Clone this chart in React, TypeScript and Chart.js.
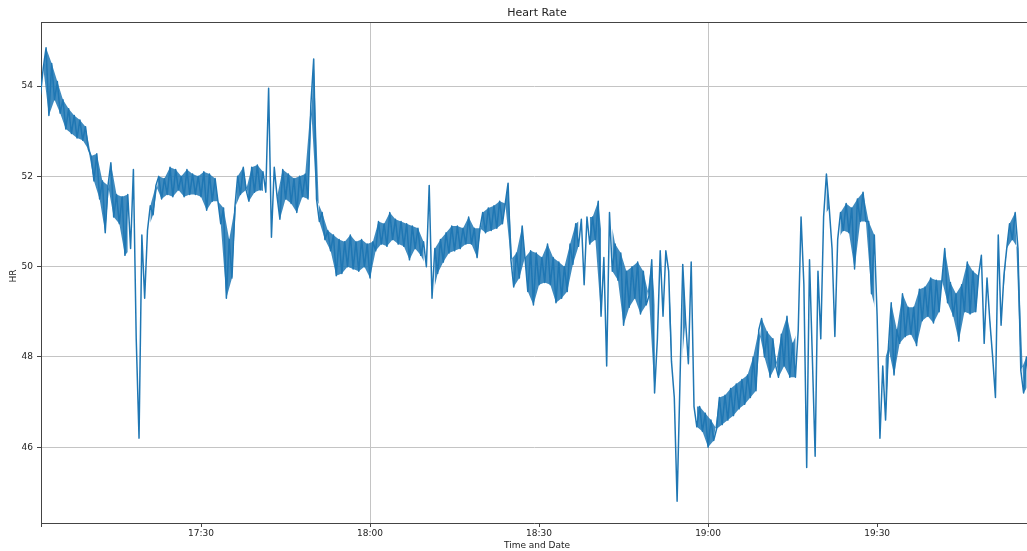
import React, { useEffect, useRef } from 'react';
import { Chart, registerables } from 'chart.js';

Chart.register(...registerables);

// Heart-rate readings every 30 seconds, minutes counted from midnight.
const seriesStartMinute = 1021.5; // 17:01:30
const stepMinutes = 0.5;

const hr1701to1731 = [
  53.8, 54.4, 54.85, 53.35, 54.5, 53.7, 54.1, 53.4, 53.7, 53.05,
  53.5, 52.95, 53.35, 52.85, 53.25, 52.8, 53.1, 52.6, 52.45, 51.9,
  52.5, 51.5, 51.9, 50.75, 51.8, 52.3, 51.1, 51.6, 50.95, 51.55,
  50.25, 51.6, 50.4, 52.15, 48.4, 46.2, 50.7, 49.3, 50.8, 51.35,
  51.15, 51.8, 52.0, 51.5, 51.95, 51.6, 52.2, 51.55, 52.15, 51.7,
  52.0, 51.55, 52.15, 51.6, 52.05, 51.6, 52.0, 51.55, 52.1, 51.25,
];
const hr1731to1801 = [
  52.05, 51.45, 51.95, 51.45, 50.95, 51.3, 49.3, 50.6, 49.75, 51.3,
  52.0, 51.6, 52.2, 51.7, 51.45, 52.2, 51.65, 52.25, 51.7, 52.1,
  51.65, 53.95, 50.65, 52.2, 51.55, 51.05, 52.15, 51.5, 52.05, 51.4,
  51.95, 51.2, 52.0, 51.55, 52.05, 51.5, 53.6, 54.6, 51.5, 51.0,
  51.2, 50.6, 50.8, 50.35, 50.7, 49.8, 50.6, 49.85, 50.55, 50.0,
  50.7, 49.95, 50.55, 49.9, 50.6, 50.0, 50.5, 49.75, 50.55, 50.35,
];
const hr1801to1831 = [
  51.0, 50.5, 50.95, 50.45, 51.2, 50.6, 51.05, 50.5, 51.0, 50.45,
  50.95, 50.15, 50.9, 50.4, 50.85, 50.25, 50.55, 50.0, 51.8, 49.3,
  50.4, 49.85, 50.6, 50.1, 50.75, 50.3, 50.9, 50.35, 50.9, 50.4,
  50.85, 50.5, 51.1, 50.5, 50.85, 50.2, 50.85, 51.2, 50.75, 51.3,
  50.8, 51.35, 50.85, 51.45, 50.95, 51.4, 51.85, 50.15, 49.55, 50.3,
  49.75, 50.9, 50.2, 49.45, 50.35, 49.15, 50.3, 49.6, 50.2, 49.65,
];
const hr1831to1901 = [
  50.5, 49.6, 50.2, 49.2, 50.1, 49.3, 50.0, 49.45, 50.5, 50.05,
  50.95, 50.45, 51.05, 49.6, 51.1, 50.5, 51.1, 50.6, 51.45, 48.9,
  50.2, 47.8, 51.2, 49.9, 50.5, 49.7, 50.3, 48.7, 49.9, 49.1,
  50.0, 49.3, 50.1, 48.95, 49.9, 49.15, 49.35, 50.15, 47.2, 48.4,
  50.35, 48.9, 50.35, 49.9, 47.9, 47.1, 44.8, 47.4, 50.05, 48.8,
  47.85, 50.1, 46.9, 46.45, 46.9, 46.35, 46.75, 46.0, 46.6, 46.15,
];
const hr1901to1931 = [
  46.4, 47.1, 46.5, 47.15, 46.6, 47.3, 46.7, 47.4, 46.85, 47.5,
  46.95, 47.6, 47.1, 48.0, 47.25, 48.6, 48.85, 48.0, 48.55, 47.55,
  48.4, 47.8, 47.55, 48.5, 47.8, 48.9, 47.55, 48.3, 47.55, 48.6,
  51.1, 49.6, 45.55, 50.15, 48.0, 45.8, 49.9, 48.4, 51.1, 52.05,
  51.3, 50.4, 48.45, 50.6, 51.2, 50.8, 51.4, 50.75, 51.3, 49.95,
  51.5, 51.0, 51.65, 51.0, 51.0, 49.4, 50.7, 48.9, 46.2, 47.8,
];
const hr1931to1957 = [
  46.6, 48.2, 49.2, 47.6, 48.6, 48.3, 49.4, 48.45, 49.1, 48.5,
  49.1, 48.25, 49.5, 48.8, 49.55, 48.9, 49.75, 48.75, 49.7, 49.0,
  49.7, 50.4, 49.2, 49.65, 48.9, 49.4, 48.35, 49.6, 49.0, 50.1,
  48.95, 49.9, 49.0, 49.8, 50.25, 48.3, 49.75, 48.8, 48.0, 47.1,
  50.7, 48.7, 49.8, 50.4, 50.95, 50.6, 51.2, 50.4, 47.7, 47.2,
  48.0, 47.4,
];

const xTickMinutes = [1050, 1080, 1110, 1140, 1170];
const majorTickMinutes = [1080, 1140];
const yTickValues = [46, 48, 50, 52, 54];
const xMinMinute = 1021.6;
const xMaxMinute = 1196.6;
const yMin = 44.32;
const yMax = 55.42;

const chartTitle = 'Heart Rate';
const xAxisTitle = 'Time and Date';
const yAxisTitle = 'HR';

const FONT = '"DejaVu Sans", "Liberation Sans", sans-serif';
const LINE_COLOR = '#1f77b4';
const SPIKE_JUMP = 1.4; // an isolated reading this far from both neighbours is drawn as a thin spike only

function fmtTime(m: number): string {
  const h = Math.floor(m / 60);
  const mm = Math.round(m - h * 60);
  return `${h}:${mm.toString().padStart(2, '0')}`;
}

const textPlugin = {
  id: 'mplText',
  afterDraw(chart: any) {
    const { ctx, chartArea } = chart;
    const { left, top, right } = chartArea;
    ctx.save();
    ctx.strokeStyle = '#444';
    ctx.lineWidth = 1;
    ctx.beginPath();
    ctx.moveTo(left, top + 0.5);
    ctx.lineTo(right, top + 0.5);
    ctx.stroke();
    ctx.fillStyle = '#222';
    ctx.textAlign = 'center';
    ctx.textBaseline = 'middle';
    ctx.font = `11px ${FONT}`;
    ctx.fillText(chartTitle, 537, 13);
    ctx.font = `9px ${FONT}`;
    ctx.fillText(xAxisTitle, 537, 546);
    ctx.translate(13.5, 276);
    ctx.rotate(-Math.PI / 2);
    ctx.fillText(yAxisTitle, 0, 0);
    ctx.restore();
  },
};

export default function App() {
  const ref = useRef<HTMLCanvasElement | null>(null);

  useEffect(() => {
    if (!ref.current) return;
    const segments = [hr1701to1731, hr1731to1801, hr1801to1831, hr1831to1901, hr1901to1931, hr1931to1957];
    const values = segments.flat();
    const points = values.map((v, i) => ({ x: seriesStartMinute + i * stepMinutes, y: v }));
    const isSpike = (i: number) => {
      const v = values[i];
      const a = values[i - 1];
      const b = values[i + 1];
      if (a === undefined || b === undefined) return false;
      return (v - a > SPIKE_JUMP && v - b > SPIKE_JUMP) || (a - v > SPIKE_JUMP && b - v > SPIKE_JUMP);
    };
    // readings alternate between the top and bottom of the noise band:
    // shade between the two interleaved sub-series to show that band
    const bandPts = (parity: number) =>
      points
        .map((p, i) => ({ x: p.x, y: isSpike(i) ? null : p.y, i }))
        .filter((p) => p.i % 2 === parity)
        .map(({ x, y }) => ({ x, y }));

    const chart = new Chart(ref.current, {
      type: 'line',
      data: {
        datasets: [
          {
            label: 'HR',
            data: points,
            borderColor: LINE_COLOR,
            borderWidth: 1.5,
            borderJoinStyle: 'round',
            pointRadius: 0,
            tension: 0,
            fill: false,
            order: 0,
          },
          {
            label: 'band-a',
            data: bandPts(0) as any,
            borderWidth: 0,
            borderColor: 'rgba(0,0,0,0)',
            pointRadius: 0,
            tension: 0,
            spanGaps: false,
            fill: false,
            order: 2,
          },
          {
            label: 'band-b',
            data: bandPts(1) as any,
            borderWidth: 0,
            borderColor: 'rgba(0,0,0,0)',
            backgroundColor: 'rgba(31,119,180,0.85)',
            pointRadius: 0,
            tension: 0,
            spanGaps: false,
            fill: '-1',
            order: 1,
          },
        ],
      },
      options: {
        responsive: false,
        animation: false,
        devicePixelRatio: 1,
        layout: { padding: { top: 22, left: 0, right: 0, bottom: 0 } },
        plugins: {
          legend: { display: false },
          tooltip: { enabled: false },
          title: { display: false },
        },
        scales: {
          x: {
            type: 'linear',
            position: 'bottom',
            min: xMinMinute,
            max: xMaxMinute,
            afterFit: (scale: any) => {
              scale.height = 28;
            },
            afterBuildTicks: (scale: any) => {
              scale.ticks = [xMinMinute, ...xTickMinutes].map((v) => ({ value: v }));
            },
            ticks: {
              autoSkip: false,
              maxRotation: 0,
              padding: 1,
              color: '#222',
              font: { family: FONT, size: 9 },
              callback: (v: any) => (xTickMinutes.includes(Number(v)) ? fmtTime(Number(v)) : ''),
            },
            grid: {
              color: (c: any) =>
                c.tick && majorTickMinutes.includes(c.tick.value) ? '#c4c4c4' : 'rgba(0,0,0,0)',
              lineWidth: 1,
              drawTicks: true,
              tickLength: 4,
              tickColor: '#444',
              tickWidth: 1,
            },
            border: { display: true, color: '#444', width: 1 },
          },
          y: {
            type: 'linear',
            min: yMin,
            max: yMax,
            afterFit: (scale: any) => {
              scale.width = 41;
            },
            afterBuildTicks: (scale: any) => {
              scale.ticks = yTickValues.map((v) => ({ value: v }));
            },
            ticks: {
              padding: 4,
              color: '#222',
              font: { family: FONT, size: 9 },
              callback: (v: any) => String(v),
            },
            grid: {
              color: '#c4c4c4',
              lineWidth: 1,
              drawTicks: true,
              tickLength: 4,
              tickColor: '#444',
              tickWidth: 1,
            },
            border: { display: true, color: '#444', width: 1 },
          },
        },
      },
      plugins: [textPlugin],
    });
    return () => chart.destroy();
  }, []);

  return (
    <div style={{ position: 'absolute', left: 0, top: 0, width: 1027, height: 551, background: '#fff' }}>
      <canvas ref={ref} width={1027} height={551} style={{ display: 'block' }} />
    </div>
  );
}
